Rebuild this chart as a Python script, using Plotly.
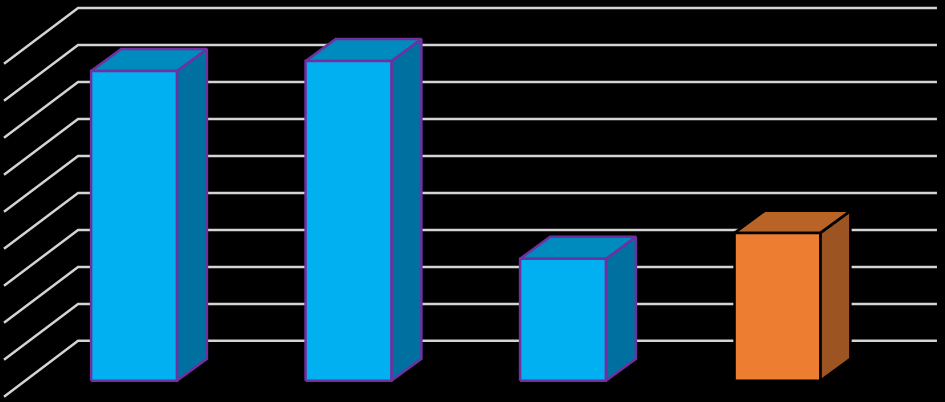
import plotly.graph_objects as go

# values, gridlines are every 10 on the back wall
positions=[0,1,2,3]
values=[83.8,86.5,33,40]
grid_values=[10,20,30,40,50,60,70,80,90,100]
front_colors=["#00B0F0","#00B0F0","#00B0F0","#ED7D31"]
top_colors=["#008BBE","#008BBE","#008BBE","#B96327"]
side_colors=["#0070A0","#0070A0","#0070A0","#9C5522"]
line_colors=["#7030A0","#7030A0","#7030A0","#000000"]

bar_half=0.2
depth_x=0.14
depth_y=5.95
base=-0.8
wall_left=-0.2607
wall_front=-0.6061
wall_right=3.7435
wall_drop=15.1

fig=go.Figure()

for g in grid_values:
    fig.add_trace(go.Scatter(x=[wall_front,wall_left,wall_right],y=[g-wall_drop,g,g],mode="lines",
                             line=dict(color="#D4D4D4",width=2.5),hoverinfo="skip"))

def face(xs,ys,fill,line):
    fig.add_trace(go.Scatter(x=xs,y=ys,mode="lines",fill="toself",fillcolor=fill,
                             line=dict(color=line,width=2.5,simplify=False),hoverinfo="skip"))

for p,v,fc,tc,sc,lc in zip(positions,values,front_colors,top_colors,side_colors,line_colors):
    left=p-bar_half
    right=p+bar_half
    top=base+v
    # side, top, then the front on top of them
    face([right,right+depth_x,right+depth_x,right,right],[base,base+depth_y,top+depth_y,top,base],sc,lc)
    face([left,left+depth_x,right+depth_x,right,left],[top,top+depth_y,top+depth_y,top,top],tc,lc)
    face([left,right,right,left,left],[base,base,top,top,base],fc,lc)

fig.update_layout(width=945,height=402,margin=dict(l=0,r=0,t=0,b=0),showlegend=False,
                  paper_bgcolor="#000000",plot_bgcolor="#000000",
                  xaxis=dict(range=[-0.6247,3.7811],visible=False,fixedrange=True),
                  yaxis=dict(range=[-6.53,102.17],visible=False,fixedrange=True))

fig.write_html("out.html",config=dict(displayModeBar=False),
               post_script="document.body.style.margin='0';document.body.style.background='#000';document.body.style.overflow='hidden';")
